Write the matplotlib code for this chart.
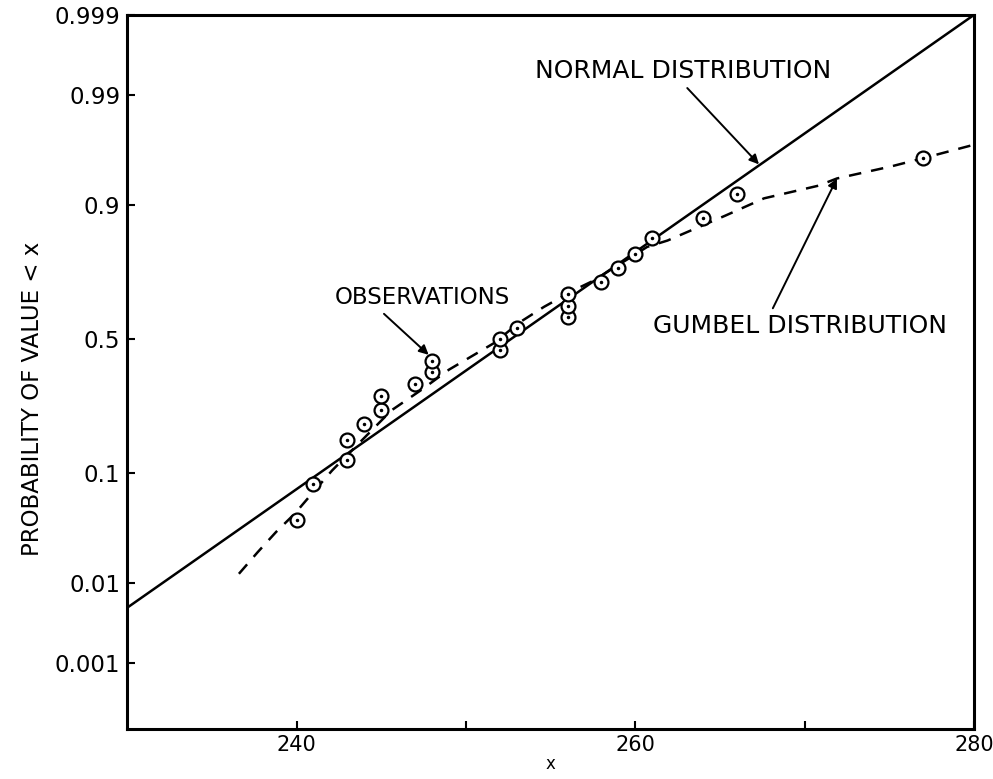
import numpy as np
import matplotlib
matplotlib.use('Agg')
import matplotlib.pyplot as plt
from statistics import NormalDist

# observed values, sorted, with their plotting probabilities
obs_x = [240, 241, 243, 243, 244, 245, 245, 247, 248, 248, 252, 252, 253,
         256, 256, 256, 258, 259, 260, 261, 264, 266, 277]
obs_p = [0.042, 0.083, 0.125, 0.167, 0.208, 0.250, 0.292, 0.333, 0.375,
         0.417, 0.458, 0.500, 0.542, 0.583, 0.625, 0.667, 0.708, 0.750,
         0.792, 0.833, 0.875, 0.917, 0.958]

# fitted normal distribution (straight line on probability paper)
normal_x = [230, 280]
normal_p = [0.0052, 0.999]

# fitted Gumbel distribution (dashed curve)
gumbel_x = [236.6, 237.7, 238.8, 239.9, 240.9, 242.1, 245.6, 247.4, 249.0,
            251.7, 253.1, 254.6, 256.4, 257.5, 260.7, 261.9, 265.3, 267.6,
            270.8, 271.9, 275.1, 277.1, 280.0]
gumbel_p = [0.0126, 0.021, 0.033, 0.048, 0.070, 0.105, 0.248, 0.315, 0.385,
            0.486, 0.56, 0.62, 0.68, 0.71, 0.81, 0.826, 0.88, 0.91,
            0.928, 0.937, 0.95, 0.958, 0.968]

ytick_vals = [0.001, 0.01, 0.1, 0.5, 0.9, 0.99, 0.999]
ytick_labels = ['0.001', '0.01', '0.1', '0.5', '0.9', '0.99', '0.999']
xtick_vals = [240, 250, 260, 270, 280]
xtick_labels = ['240', '', '260', '', '280']

_nd = NormalDist()
_ppf = np.vectorize(_nd.inv_cdf, otypes=[float])
_cdf = np.vectorize(_nd.cdf, otypes=[float])


def probit(p):
    p = np.clip(np.asarray(p, dtype=float), 1e-12, 1 - 1e-12)
    return _ppf(p)


def inv_probit(z):
    return _cdf(np.asarray(z, dtype=float))


plt.rcParams['font.family'] = 'DejaVu Sans'

fig = plt.figure(figsize=(9.93, 7.79), dpi=100)
ax = fig.add_axes([0.128, 0.064, 0.853, 0.917])
ax.set_yscale('function', functions=(probit, inv_probit))

ax.plot(normal_x, normal_p, '-', color='black', lw=1.8)
ax.plot(gumbel_x, gumbel_p, '--', color='black', lw=1.8, dashes=(5, 4))
ax.plot(obs_x, obs_p, 'o', ms=10, mfc='white', mec='black', mew=1.6)
ax.plot(obs_x, obs_p, '.', ms=3, color='black')

ax.set_xlim(230, 280)
ax.set_ylim(0.0001, 0.999)
ax.set_xticks(xtick_vals)
ax.set_xticklabels(xtick_labels)
ax.set_yticks(ytick_vals)
ax.set_yticklabels(ytick_labels)
ax.minorticks_off()
ax.tick_params(direction='in', length=6, width=1.5, pad=5)
ax.tick_params(axis='y', labelsize=16.5)
ax.tick_params(axis='x', labelsize=15, pad=4)

for s in ax.spines.values():
    s.set_linewidth(2.2)

ax.set_ylabel('PROBABILITY OF VALUE < x', fontsize=16.5)
ax.yaxis.set_label_coords(-0.098, 0.462)
ax.set_xlabel('x', fontsize=12, labelpad=0)

arrow = dict(arrowstyle='-|>', color='black', lw=1.4, mutation_scale=14,
             shrinkA=2, shrinkB=0)

ax.annotate('NORMAL DISTRIBUTION', xy=(267.3, 0.952),
            xytext=(0.656, 0.921), textcoords='axes fraction',
            ha='center', va='center', fontsize=18,
            arrowprops=dict(arrow, relpos=(0.5, 0)))
ax.annotate('OBSERVATIONS', xy=(247.8, 0.44),
            xytext=(0.349, 0.604), textcoords='axes fraction',
            ha='center', va='center', fontsize=16.5,
            arrowprops=dict(arrow, relpos=(0.25, 0)))
ax.annotate('GUMBEL DISTRIBUTION', xy=(271.9, 0.937),
            xytext=(0.794, 0.565), textcoords='axes fraction',
            ha='center', va='center', fontsize=18,
            arrowprops=dict(arrow, relpos=(0.4, 1)))

fig.savefig('out.png', dpi=100)
